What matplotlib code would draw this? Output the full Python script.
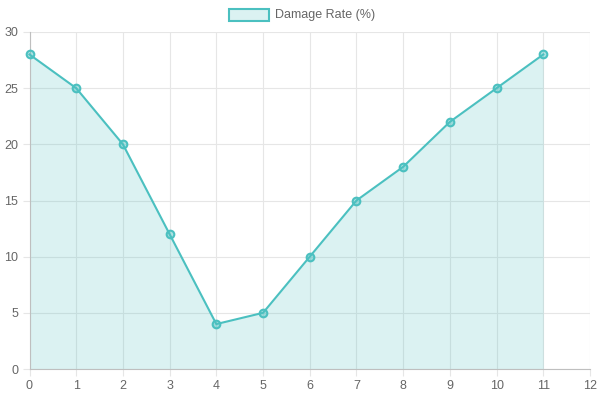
import matplotlib
matplotlib.use("Agg")
import matplotlib.pyplot as plt
from matplotlib.patches import Rectangle

# data
months = [0, 1, 2, 3, 4, 5, 6, 7, 8, 9, 10, 11]
damage_rate = [28, 25, 20, 12, 4, 5, 10, 15, 18, 22, 25, 28]
x_ticks = list(range(0, 13))
y_ticks = [0, 5, 10, 15, 20, 25, 30]

plt.rcParams['font.family'] = ['Liberation Sans', 'DejaVu Sans']

teal = (75/255, 192/255, 192/255)
teal_fill = (75/255, 192/255, 192/255, 0.2)
marker_fill = (75/255, 192/255, 192/255, 0.45)
grid_col = '#e6e6e6'
axis_col = '#bfbfbf'
text_col = '#666666'

fig = plt.figure(figsize=(6, 4), dpi=100)
ax = fig.add_axes([29.5/600, 31/400, (590-29.5)/600, (369-32)/400])

ax.fill_between(months, damage_rate, 0, color=teal_fill, linewidth=0)
ax.plot(months, damage_rate, color=teal, linewidth=1.5,
        marker='o', markersize=5.5, markerfacecolor=marker_fill,
        markeredgecolor=teal, markeredgewidth=1.5, clip_on=False, zorder=3)

ax.set_xlim(0, 12)
ax.set_ylim(0, 30)
ax.set_xticks(x_ticks)
ax.set_yticks(y_ticks)
ax.grid(True, color=grid_col, linewidth=0.8, alpha=1.0)
ax.set_axisbelow(True)

for s in ['top', 'right']:
    ax.spines[s].set_visible(False)
for s in ['left', 'bottom']:
    ax.spines[s].set_color(axis_col)
    ax.spines[s].set_linewidth(0.8)

ax.tick_params(axis='both', colors=grid_col, labelcolor=text_col,
               labelsize=9, length=5, width=0.8)
ax.tick_params(axis='y', pad=3)
ax.tick_params(axis='x', pad=3)

# legend like chart.js: boxed swatch + label at the top centre
fig.patches.append(Rectangle((229/600, 1 - 21/400), 40/600, 12/400,
                             transform=fig.transFigure, facecolor=teal_fill,
                             edgecolor=teal, linewidth=1.5))
fig.text(275/600, 1 - 15/400, 'Damage Rate (%)', color=text_col,
         fontsize=9, va='center', ha='left')

fig.savefig('out.png', dpi=100)
